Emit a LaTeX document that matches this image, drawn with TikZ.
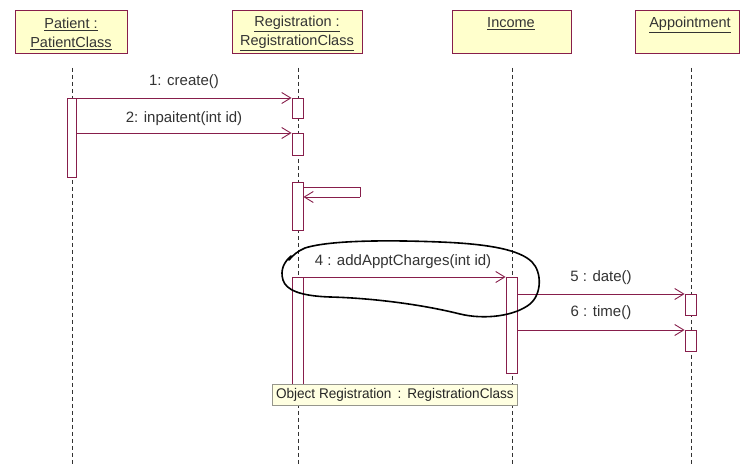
\documentclass[tikz,border=0pt]{standalone}
\usepackage{fontspec}
\setmainfont{Liberation Sans}
\usetikzlibrary{arrows.meta}
\definecolor{umlline}{RGB}{135,30,75}
\definecolor{umlfill}{RGB}{255,255,204}
\definecolor{tipfill}{RGB}{255,255,225}
\definecolor{tipdraw}{RGB}{150,150,140}
\definecolor{lifegray}{RGB}{50,50,50}
\tikzset{
  objbox/.style={draw=umlline, fill=umlfill, line width=0.9pt},
  objtext/.style={font=\fontsize{14.5}{17}\selectfont, text=black!80, align=center, inner sep=0pt},
  lifeline/.style={draw=lifegray, line width=0.9pt, dash pattern=on 4pt off 3pt},
  actbox/.style={draw=umlline, fill=white, line width=0.9pt, inner sep=0pt, anchor=north},
  msg/.style={draw=umlline, line width=0.9pt, -{Straight Barb[length=9pt,width=11pt,line width=0.9pt]}},
  msgline/.style={draw=umlline, line width=0.9pt},
  msglabel/.style={font=\fontsize{15}{17}\selectfont, text=black!80, inner sep=0pt},
  tooltip/.style={draw=tipdraw, fill=tipfill, line width=0.8pt},
  pen/.style={draw=black, line width=1.6pt, line join=round, line cap=round}
}
\begin{document}
\begin{tikzpicture}[x=1pt, y=-1pt]
\useasboundingbox (0,0) rectangle (740,465);
\clip (0,0) rectangle (740,465);
\fill[white] (0,0) rectangle (740,465);

% lifelines
\coordinate (pTop) at (72,68);   \coordinate (pBot) at (72,465);
\coordinate (rTop) at (298,68);  \coordinate (rBot) at (298,465);
\coordinate (iTop) at (512,68);  \coordinate (iBot) at (512,465);
\coordinate (aTop) at (691,68);  \coordinate (aBot) at (691,465);
\draw[lifeline] (pTop) -- (pBot);
\draw[lifeline] (rTop) -- (rBot);
\draw[lifeline] (iTop) -- (iBot);
\draw[lifeline] (aTop) -- (aBot);

% object boxes
\draw[objbox] (15,10) rectangle (127,53);
\node[objtext] (patient) at (71,33.5) {\underline{Patient :}\\[2pt]\underline{PatientClass}};
\draw[objbox] (232,10) rectangle (362,53);
\node[objtext] (registration) at (297,33.5) {\underline{Registration :}\\[2pt]\underline{RegistrationClass}};
\draw[objbox] (452,10) rectangle (571,53);
\node[objtext, anchor=north] (income) at (511,17) {\underline{Income}};
\draw[objbox] (635,10) rectangle (739,53);
\node[objtext, anchor=north] (appointment) at (690,17) {\underline{Appointment}};

% activations
\node[actbox, minimum width=9pt, minimum height=79pt] (pAct) at (71.5,98) {};
\node[actbox, minimum width=11pt, minimum height=20pt] (rAct1) at (297.5,98) {};
\node[actbox, minimum width=11pt, minimum height=22pt] (rAct2) at (297.5,133) {};
\node[actbox, minimum width=11pt, minimum height=48pt] (rAct3) at (297.5,182) {};
\node[actbox, minimum width=11pt, minimum height=120pt] (rAct4) at (297.5,277) {};
\node[actbox, minimum width=11pt, minimum height=96pt] (iAct) at (511.5,277) {};
\node[actbox, minimum width=11pt, minimum height=21pt] (aAct1) at (690.5,294) {};
\node[actbox, minimum width=11pt, minimum height=21pt] (aAct2) at (690.5,330) {};

% messages
\draw[msg] (pAct.north east) -- (rAct1.north west);
\node[msglabel] (m1) at (184,82) {1: create()};
\draw[msg] (pAct.east |- rAct2.north) -- (rAct2.north west);
\node[msglabel] (m2) at (184,119) {2: inpaitent(int id)};

% self call on Registration
\coordinate (s1) at (360,187);
\coordinate (s2) at (360,197);
\draw[msgline] (rAct3.east |- s1) -- (s1) -- (s2);
\draw[msg] (s2) -- (rAct3.east |- s2);

\draw[msg] (rAct4.north east) -- (iAct.north west);
\node[msglabel] (m4) at (403,262) {4 : addApptCharges(int id)};
\draw[msg] (iAct.east |- aAct1.north) -- (aAct1.north west);
\node[msglabel] (m5) at (601,278) {5 : date()};
\draw[msg] (iAct.east |- aAct2.north) -- (aAct2.north west);
\node[msglabel] (m6) at (601,313) {6 : time()};

% hovering object tip
\node[tooltip, minimum width=245pt, minimum height=21pt, inner sep=0pt, anchor=north west] (tip) at (272,384) {};
\node[font=\fontsize{14}{16}\selectfont, text=black!85, inner sep=0pt] (tiptext) at (tip.center)
  {\scalebox{0.97}[1]{Object Registration\ \,:\ \,RegistrationClass}};

% freehand loop drawn over message 4
\draw[pen] (291,256) .. controls (284,262) and (280,270) .. (283,280)
  .. controls (286,290) and (300,296) .. (330,297)
  .. controls (370,298) and (420,304) .. (460,314)
  .. controls (485,320) and (515,316) .. (530,304)
  .. controls (542,294) and (542,272) .. (532,262)
  .. controls (520,250) and (490,244) .. (440,242)
  .. controls (390,240) and (330,240) .. (305,248)
  .. controls (298,251) and (293,255) .. (289,260);
\end{tikzpicture}
\end{document}
